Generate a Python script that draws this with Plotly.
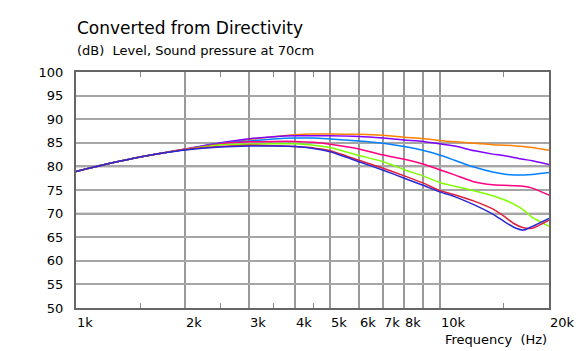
import numpy as np
import plotly.graph_objects as go

freqs = [1000, 1250, 1500, 1750, 2000, 2500, 3000, 3500, 4000, 4500, 5000, 6000, 7000,
         8000, 9000, 10000, 11000, 12500, 14000, 15000, 16000, 17000, 18000, 20000]

orange = [78.9, 80.7, 82.0, 82.9, 83.7, 84.9, 85.7, 86.3, 86.7, 86.85, 86.85, 86.8, 86.6,
          86.2, 85.9, 85.5, 85.2, 84.9, 84.6, 84.5, 84.4, 84.2, 84.0, 83.4]
purple = [78.9, 80.7, 82.0, 82.9, 83.7, 85.0, 85.85, 86.3, 86.5, 86.5, 86.5, 86.35, 86.0,
          85.6, 85.3, 84.8, 84.3, 83.3, 82.6, 82.3, 81.9, 81.5, 81.2, 80.4]
azure = [78.9, 80.7, 82.0, 82.9, 83.6, 84.9, 85.4, 85.8, 86.0, 86.0, 85.8, 85.4, 84.9,
         84.2, 83.4, 82.4, 81.3, 79.8, 78.8, 78.4, 78.2, 78.2, 78.3, 78.7]
pink = [78.9, 80.7, 82.0, 82.9, 83.6, 84.8, 85.2, 85.3, 85.3, 85.1, 84.7, 83.7, 82.4,
        81.5, 80.5, 79.3, 78.2, 76.7, 76.1, 76.0, 75.9, 75.8, 75.4, 73.9]
green = [78.9, 80.7, 82.0, 82.9, 83.6, 84.6, 84.7, 84.8, 84.8, 84.5, 84.0, 82.3, 81.0,
         79.3, 78.0, 76.6, 75.8, 74.8, 73.8, 73.0, 72.0, 70.8, 69.2, 67.3]
red = [78.9, 80.7, 82.0, 82.9, 83.6, 84.2, 84.5, 84.4, 84.2, 83.9, 83.3, 81.3, 79.6,
       78.0, 76.5, 74.9, 74.0, 72.6, 71.0, 69.5, 67.9, 67.0, 66.9, 68.6]
blue = [78.9, 80.7, 82.0, 82.9, 83.5, 84.1, 84.3, 84.3, 84.2, 83.8, 83.1, 81.0, 79.2,
        77.5, 76.0, 74.6, 73.6, 71.8, 69.9, 68.4, 67.1, 66.5, 67.3, 69.0]

series = [
    ("orange", orange, "#ff8000"),
    ("purple", purple, "#8000ff"),
    ("azure", azure, "#0080ff"),
    ("pink", pink, "#ff0080"),
    ("green", green, "#80ff00"),
    ("red", red, "#e0203a"),
    ("blue", blue, "#2828d8"),
]

x_grid = [1000, 2000, 3000, 4000, 5000, 6000, 7000, 8000, 9000, 10000, 20000]
x_minor = [1500, 2500, 3500, 4500, 15000]
x_tick_vals = [1000, 2000, 3000, 4000, 5000, 6000, 7000, 8000, 10000, 20000]
x_tick_text = ["1k", "2k", "3k", "4k", "5k", "6k", "7k", "8k", "10k", "20k"]
y_ticks = list(range(50, 101, 5))
y_major = [60, 70, 80, 90]

FONT = "DejaVu Sans"

fig = go.Figure()
for name, vals, color in series:
    fig.add_trace(go.Scatter(x=freqs, y=vals, mode="lines", name=name,
                             line=dict(color=color, width=1.5, shape="spline", smoothing=0.6),
                             showlegend=False))

fig.update_layout(
    width=578, height=351,
    margin=dict(l=76, r=29, t=72, b=43),
    paper_bgcolor="white", plot_bgcolor="white",
    font=dict(family=FONT, size=12, color="#000000"),
    xaxis=dict(type="log", range=[3, np.log10(20000)],
               tickmode="array", tickvals=x_grid, showticklabels=False,
               ticks="", showgrid=True, gridcolor="#999999", gridwidth=1.5,
               showline=True, linecolor="#666666", linewidth=2, mirror="ticks",
               minor=dict(tickmode="array", tickvals=x_minor, ticks="inside",
                          ticklen=5, tickcolor="#888888", tickwidth=1, showgrid=False),
               zeroline=False),
    yaxis=dict(range=[50, 100], tickmode="array", tickvals=y_ticks,
               ticktext=[str(v) for v in y_ticks], ticks="",
               showgrid=True, gridcolor="#a6a6a6", gridwidth=1.5,
               showline=True, linecolor="#666666", linewidth=2, mirror=True,
               ticklabelstandoff=8,
               tickfont=dict(family=FONT, size=13, color="#000000"),
               zeroline=False),
)

# darker gridlines at every 10 dB and at 10 kHz
for v in y_major:
    fig.add_shape(type="line", xref="paper", x0=0, x1=1, yref="y", y0=v, y1=v,
                  line=dict(color="#6e6e6e", width=1.5), layer="below")
fig.add_shape(type="line", xref="x", x0=np.log10(10000), x1=np.log10(10000),
              yref="paper", y0=0, y1=1, line=dict(color="#6e6e6e", width=1.5),
              layer="below")

for v, t in zip(x_tick_vals, x_tick_text):
    fig.add_annotation(x=np.log10(v), xref="x", y=0, yref="paper", text=t,
                       showarrow=False, xanchor="left", yanchor="top", yshift=-5,
                       xshift=-1, font=dict(family=FONT, size=13, color="#000000"))

fig.add_annotation(x=1, xref="paper", y=0, yref="paper", text="Frequency  (Hz)",
                   showarrow=False, xanchor="right", yanchor="top", yshift=-22,
                   font=dict(family=FONT, size=13, color="#000000"))

fig.add_annotation(x=0, xref="paper", y=1, yref="paper", text="Converted from Directivity",
                   showarrow=False, xanchor="left", yanchor="bottom", yshift=32, xshift=-1,
                   font=dict(family=FONT, size=17, color="#000000"))
fig.add_annotation(x=0, xref="paper", y=1, yref="paper",
                   text="(dB)  Level, Sound pressure at 70cm",
                   showarrow=False, xanchor="left", yanchor="bottom", yshift=12, xshift=-1,
                   font=dict(family=FONT, size=13, color="#000000"))

fig.write_html("out.html")
